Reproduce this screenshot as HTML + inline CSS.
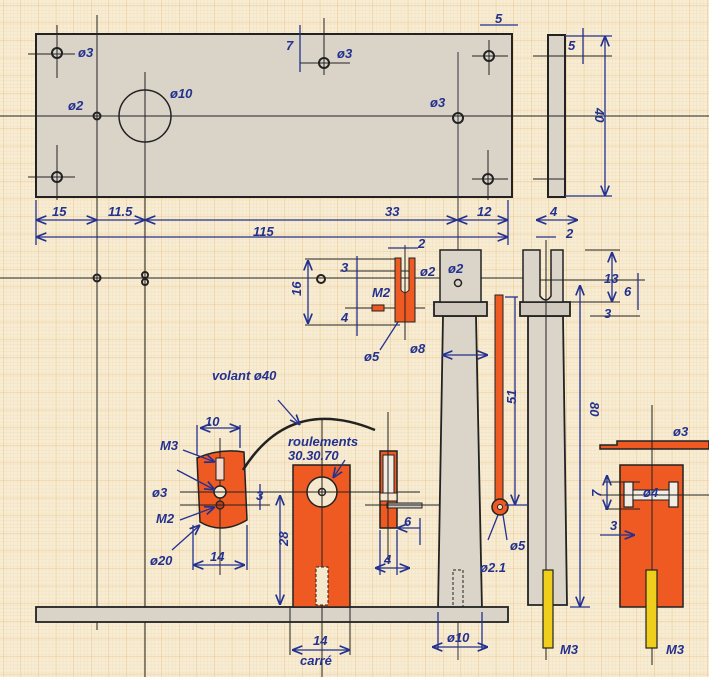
<!DOCTYPE html>
<html><head><meta charset="utf-8"><style>
html,body{margin:0;padding:0;background:#f4e6c9}
svg{display:block}
text{font-family:"Liberation Sans",sans-serif;font-style:italic;font-weight:bold;fill:#23318f;font-size:13px}
</style></head><body>
<svg width="709" height="677" viewBox="0 0 709 677" xmlns="http://www.w3.org/2000/svg">
<defs>
<pattern id="fine" width="3.52" height="3.52" patternUnits="userSpaceOnUse">
<path d="M3.52 0V3.52M0 3.52H3.52" stroke="#f0d6a8" stroke-width="0.45" fill="none"/>
</pattern>
<pattern id="major" width="17.6" height="17.6" patternUnits="userSpaceOnUse" x="3" y="5">
<path d="M0 0V17.6M0 0H17.6" stroke="#eabf82" stroke-width="0.8" fill="none"/>
</pattern>
<marker id="ar" viewBox="0 0 10 10" refX="10" refY="5" markerWidth="8" markerHeight="8" orient="auto-start-reverse"><path d="M0 1L10 5L0 9" fill="none" stroke="#23318f" stroke-width="1.6"/></marker>
</defs>
<rect width="709" height="677" fill="#f7ecd4"/>
<rect width="709" height="677" fill="url(#fine)"/>
<rect width="709" height="677" fill="url(#major)"/>

<g stroke="#222" stroke-width="1" fill="none">
<rect x="36" y="34" width="476" height="163" fill="#d9d3c8" stroke-width="2"/>
<rect x="548" y="35" width="17" height="162" fill="#d9d3c8" stroke-width="2"/>
<line x1="0" y1="116" x2="709" y2="116"/>
<line x1="97" y1="15" x2="97" y2="630"/>
<line x1="145" y1="72" x2="145" y2="677"/>
<line x1="324" y1="18" x2="324" y2="75"/>
<line x1="458" y1="52" x2="458" y2="660" stroke="#334"/>
<line x1="28" y1="54" x2="75" y2="54"/><line x1="57" y1="25" x2="57" y2="78"/>
<line x1="28" y1="177" x2="75" y2="177"/><line x1="57" y1="145" x2="57" y2="200"/>
<line x1="472" y1="56" x2="508" y2="56"/><line x1="489" y1="40" x2="489" y2="75"/>
<line x1="472" y1="179" x2="508" y2="179"/><line x1="488" y1="150" x2="488" y2="200"/>
<line x1="300" y1="63" x2="350" y2="63"/>
<line x1="533" y1="56" x2="612" y2="56"/><line x1="533" y1="179" x2="565" y2="179"/>
<circle cx="57" cy="53" r="5" stroke-width="2"/>
<circle cx="57" cy="177" r="5" stroke-width="2"/>
<circle cx="489" cy="56" r="5" stroke-width="2"/>
<circle cx="488" cy="179" r="5" stroke-width="2"/>
<circle cx="324" cy="63" r="5" stroke-width="2"/>
<circle cx="458" cy="118" r="5" stroke-width="2"/>
<circle cx="97" cy="116" r="3.5" stroke-width="2"/>
<circle cx="145" cy="116" r="26" stroke-width="1.5"/>
<line x1="0" y1="278" x2="300" y2="278"/>
<circle cx="97" cy="278" r="3.5" stroke-width="2"/>
<circle cx="145" cy="275" r="3" stroke-width="2"/><circle cx="145" cy="282" r="3" stroke-width="2"/>
<line x1="300" y1="278" x2="540" y2="278"/>
<circle cx="321" cy="279" r="4" stroke-width="2"/>
<line x1="305" y1="259" x2="400" y2="259"/><line x1="305" y1="325" x2="400" y2="325"/>
<line x1="345" y1="308" x2="425" y2="308"/><line x1="340" y1="271" x2="410" y2="271"/>
<path d="M395 258H401V290Q405 295 409 290V258H415V322H395Z" fill="#ef5a22"/>
<line x1="405" y1="245" x2="405" y2="340"/>
<path d="M372 305h12v6h-12z" fill="#ef5a22"/>
<path d="M443 316L438 610H482L476 316Z" fill="#dad4c9" stroke-width="1.8"/>
<rect x="434" y="302" width="53" height="14" fill="#cfc8bc" stroke-width="1.8"/>
<rect x="440" y="250" width="41" height="52" fill="#dad4c9" stroke-width="1.5"/>
<circle cx="458" cy="283" r="3.5" stroke-width="1.5"/>
<path d="M453 570h10v40h-10z" stroke-dasharray="3 2"/>
<rect x="495" y="295" width="8" height="205" fill="#ef5a22"/>
<circle cx="500" cy="507" r="8" fill="#ef5a22" stroke-width="1.5"/>
<circle cx="500" cy="507" r="2.5" fill="#f5e8cc"/>
<path d="M528 316L528 605H567L563 316Z" fill="#dad4c9" stroke-width="1.8"/>
<rect x="520" y="302" width="50" height="14" fill="#cfc8bc" stroke-width="1.8"/>
<path d="M523 250H540V296Q546 304 551 296V250H563V302H523Z" fill="#dad4c9" stroke-width="1.5"/>
<line x1="546" y1="240" x2="546" y2="660"/>
<line x1="565" y1="302" x2="620" y2="302"/><line x1="585" y1="250" x2="620" y2="250"/>
<line x1="540" y1="280" x2="645" y2="280"/><line x1="590" y1="316" x2="640" y2="316"/>
<rect x="36" y="607" width="472" height="15" fill="#d9d3c8" stroke-width="1.8"/>
<path d="M197 458Q220 448 244 452L247 520Q222 535 200 522Z" fill="#ef5a22" stroke-width="1.5"/>
<line x1="220" y1="438" x2="220" y2="575"/>
<rect x="216" y="458" width="8" height="22" fill="#f7d8c8"/>
<circle cx="220" cy="492" r="6" fill="#f5e8cc" stroke-width="1.5"/>
<circle cx="220" cy="505" r="4" fill="#b9401b" stroke-width="1.2"/>
<line x1="180" y1="492" x2="270" y2="492"/><line x1="180" y1="505" x2="270" y2="505"/>
<path d="M243 470Q290 395 375 430" stroke-width="2.5"/>
<rect x="293" y="465" width="57" height="142" fill="#ef5a22" stroke-width="1.5"/>
<circle cx="322" cy="492" r="15" fill="#f5e8cc" stroke-width="1.5"/>
<circle cx="322" cy="492" r="3.5" stroke-width="1.5"/>
<line x1="322" y1="420" x2="322" y2="677"/>
<line x1="260" y1="492" x2="420" y2="492"/>
<rect x="316" y="567" width="12" height="38" fill="#f5e8cc" stroke-dasharray="3 2"/>
<line x1="290" y1="607" x2="290" y2="655"/><line x1="350" y1="607" x2="350" y2="655"/>
<rect x="380" y="451" width="17" height="77" fill="#ef5a22" stroke-width="1.5"/>
<rect x="383" y="455" width="11" height="38" fill="#f2ece2"/>
<rect x="380" y="493" width="17" height="8" fill="#f5e8cc"/>
<rect x="387" y="503" width="35" height="5" fill="#cfc8bc"/>
<line x1="365" y1="505" x2="440" y2="505"/>
<line x1="388" y1="412" x2="388" y2="560"/>
<path d="M600 445H617V441H709V449H600Z" fill="#ef5a22" stroke-width="1.5"/>
<path d="M620 465H683V607H620Z" fill="#ef5a22" stroke-width="1.5"/>
<rect x="624" y="482" width="9" height="25" fill="#f2ece2" stroke-width="1.2"/>
<rect x="669" y="482" width="9" height="25" fill="#f2ece2" stroke-width="1.2"/>
<rect x="633" y="490" width="36" height="10" fill="#f2ece2" stroke-width="1"/>
<line x1="652" y1="405" x2="652" y2="665"/>
<line x1="605" y1="482" x2="640" y2="482"/><line x1="605" y1="509" x2="640" y2="509"/>
<line x1="600" y1="495" x2="709" y2="495"/>
</g>
<g stroke="#222" stroke-width="1.2">
<rect x="543" y="570" width="10" height="78" fill="#f0cf1c"/>
<rect x="646" y="570" width="11" height="78" fill="#f0cf1c"/>
</g>

<g stroke="#23318f" stroke-width="1.3" fill="none">
<line x1="36" y1="200" x2="36" y2="245"/><line x1="508" y1="200" x2="508" y2="245"/>
<line x1="36" y1="220" x2="97" y2="220" marker-start="url(#ar)" marker-end="url(#ar)"/>
<line x1="97" y1="220" x2="145" y2="220" marker-end="url(#ar)"/>
<line x1="145" y1="220" x2="457" y2="220" marker-start="url(#ar)" marker-end="url(#ar)"/>
<line x1="457" y1="220" x2="508" y2="220" marker-start="url(#ar)" marker-end="url(#ar)"/>
<line x1="36" y1="237" x2="508" y2="237" marker-start="url(#ar)" marker-end="url(#ar)"/>
<line x1="300" y1="25" x2="300" y2="72"/>
<line x1="605" y1="36" x2="605" y2="196" marker-start="url(#ar)" marker-end="url(#ar)"/>
<line x1="565" y1="36" x2="612" y2="36"/><line x1="565" y1="196" x2="612" y2="196"/>
<line x1="583" y1="28" x2="583" y2="64"/>
<line x1="480" y1="25" x2="518" y2="25"/>
<line x1="536" y1="220" x2="578" y2="220" marker-start="url(#ar)" marker-end="url(#ar)"/>
<line x1="536" y1="237" x2="556" y2="237"/>
<line x1="308" y1="260" x2="308" y2="324" marker-start="url(#ar)" marker-end="url(#ar)"/>
<line x1="357" y1="256" x2="357" y2="336"/>
<line x1="388" y1="248" x2="418" y2="248"/>
<line x1="442" y1="355" x2="488" y2="355" marker-start="url(#ar)" marker-end="url(#ar)"/>
<line x1="515" y1="297" x2="515" y2="505" marker-end="url(#ar)"/>
<line x1="505" y1="297" x2="518" y2="297"/>
<line x1="505" y1="505" x2="528" y2="505"/>
<line x1="580" y1="285" x2="580" y2="607" marker-start="url(#ar)" marker-end="url(#ar)"/>
<line x1="570" y1="607" x2="590" y2="607"/>
<line x1="612" y1="252" x2="612" y2="302" marker-start="url(#ar)" marker-end="url(#ar)"/>
<line x1="638" y1="273" x2="638" y2="310"/>
<line x1="200" y1="428" x2="240" y2="428" marker-start="url(#ar)" marker-end="url(#ar)"/>
<line x1="197" y1="425" x2="197" y2="455"/><line x1="240" y1="425" x2="240" y2="448"/>
<line x1="193" y1="565" x2="245" y2="565" marker-start="url(#ar)" marker-end="url(#ar)"/>
<line x1="193" y1="525" x2="193" y2="570"/><line x1="247" y1="525" x2="247" y2="570"/>
<line x1="260" y1="484" x2="260" y2="510"/>
<line x1="280" y1="495" x2="280" y2="605" marker-start="url(#ar)" marker-end="url(#ar)"/>
<line x1="292" y1="650" x2="350" y2="650" marker-start="url(#ar)" marker-end="url(#ar)"/>
<line x1="375" y1="568" x2="410" y2="568" marker-start="url(#ar)" marker-end="url(#ar)"/>
<line x1="380" y1="530" x2="380" y2="575"/><line x1="397" y1="530" x2="397" y2="575"/>
<line x1="397" y1="528" x2="420" y2="528" marker-start="url(#ar)"/><line x1="420" y1="518" x2="420" y2="545"/>
<line x1="432" y1="647" x2="488" y2="647" marker-start="url(#ar)" marker-end="url(#ar)"/>
<line x1="438" y1="612" x2="438" y2="650"/><line x1="482" y1="612" x2="482" y2="650"/>
<line x1="607" y1="475" x2="607" y2="510" marker-start="url(#ar)" marker-end="url(#ar)"/>
<line x1="600" y1="535" x2="635" y2="535" marker-end="url(#ar)"/>
<line x1="278" y1="400" x2="300" y2="425" marker-end="url(#ar)"/>
<line x1="183" y1="450" x2="215" y2="462" marker-end="url(#ar)"/>
<line x1="177" y1="470" x2="215" y2="490" marker-end="url(#ar)"/>
<line x1="180" y1="520" x2="215" y2="507" marker-end="url(#ar)"/>
<line x1="172" y1="550" x2="200" y2="525" marker-end="url(#ar)"/>
<line x1="345" y1="460" x2="333" y2="478" marker-end="url(#ar)"/>
<line x1="380" y1="350" x2="398" y2="322"/>
<line x1="488" y1="540" x2="498" y2="515"/><line x1="507" y1="540" x2="503" y2="515"/>
</g>

<text x="78" y="57">ø3</text>
<text x="68" y="110">ø2</text>
<text x="170" y="98">ø10</text>
<text x="337" y="58">ø3</text>
<text x="430" y="107">ø3</text>
<text x="286" y="50" font-size="11">7</text>
<text x="495" y="23" font-size="11">5</text>
<text x="568" y="50" font-size="11">5</text>
<text x="588" y="125" transform="rotate(90 600 120)">40</text>
<text x="52" y="216" font-size="12">15</text>
<text x="108" y="216" font-size="12">11.5</text>
<text x="385" y="216" font-size="12">33</text>
<text x="477" y="216" font-size="12">12</text>
<text x="253" y="236" font-size="12">115</text>
<text x="550" y="216" font-size="12">4</text>
<text x="566" y="238" font-size="11">2</text>
<text x="418" y="248" font-size="11">2</text>
<text x="297" y="300" font-size="12" transform="rotate(-90 297 296)">16</text>
<text x="420" y="276" font-size="12">ø2</text>
<text x="448" y="273" font-size="12">ø2</text>
<text x="372" y="297" font-size="12">M2</text>
<text x="364" y="361" font-size="12">ø5</text>
<text x="410" y="353" font-size="12">ø8</text>
<text x="341" y="272" font-size="11">3</text>
<text x="341" y="322" font-size="11">4</text>
<text x="604" y="283" font-size="12">13</text>
<text x="624" y="296" font-size="11">6</text>
<text x="604" y="318" font-size="11">3</text>
<text x="512" y="408" font-size="12" transform="rotate(-90 512 404)">51</text>
<text x="588" y="412" font-size="12" transform="rotate(90 594 408)">80</text>
<text x="212" y="380" font-size="13">volant ø40</text>
<text x="288" y="446" font-size="12">roulements</text>
<text x="288" y="460" font-size="11">30.30.70</text>
<text x="205" y="426" font-size="12">10</text>
<text x="160" y="450" font-size="12">M3</text>
<text x="152" y="497" font-size="12">ø3</text>
<text x="156" y="523" font-size="12">M2</text>
<text x="150" y="565" font-size="12">ø20</text>
<text x="210" y="561" font-size="12">14</text>
<text x="256" y="500" font-size="11">3</text>
<text x="284" y="550" font-size="12" transform="rotate(-90 284 546)">28</text>
<text x="313" y="645" font-size="12">14</text>
<text x="300" y="665" font-size="12">carré</text>
<text x="384" y="564" font-size="11">4</text>
<text x="404" y="526" font-size="11">6</text>
<text x="510" y="550" font-size="12">ø5</text>
<text x="480" y="572" font-size="12">ø2.1</text>
<text x="447" y="642" font-size="12">ø10</text>
<text x="560" y="654" font-size="13">M3</text>
<text x="666" y="654" font-size="13">M3</text>
<text x="673" y="436" font-size="13">ø3</text>
<text x="643" y="497" font-size="11">ø4</text>
<text x="610" y="530" font-size="12">3</text>
<text x="593" y="497" font-size="11" transform="rotate(-90 597 493)">7</text>
</svg>
</body></html>
